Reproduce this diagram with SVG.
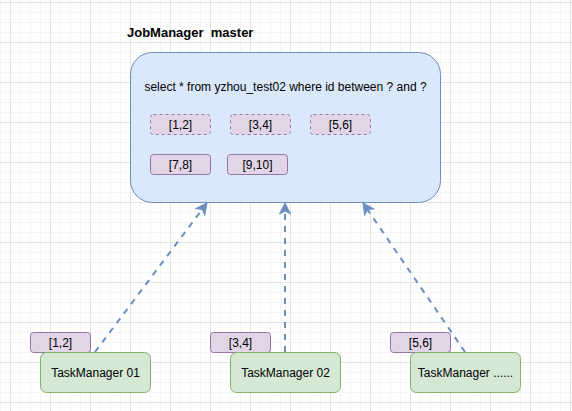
<svg xmlns="http://www.w3.org/2000/svg" width="572" height="411" viewBox="0 0 572 411">
  <style>
    text { font-family: "Liberation Sans", Arial, Helvetica, sans-serif; font-size: 12px; fill: #000; }
    .mid { text-anchor: middle; }
    .title { font-size: 13px; font-weight: bold; white-space: pre; }
    .master { fill: #dae8fc; stroke: #6c8ebf; stroke-width: 1; }
    .split { fill: #e1d5e7; stroke: #9673a6; stroke-width: 1; }
    .pending { stroke-dasharray: 3 3; }
    .tm { fill: #d5e8d4; stroke: #82b366; stroke-width: 1; }
    .conn { fill: none; stroke: #6c8ebf; stroke-width: 2; stroke-dasharray: 6 6; }
  </style>
  <defs>
    <pattern id="grid" patternUnits="userSpaceOnUse" x="10" y="2" width="40" height="40">
      <path d="M10.5,0 V40 M20.5,0 V40 M30.5,0 V40 M0,10.5 H40 M0,20.5 H40 M0,30.5 H40" stroke="#f5f5f5" stroke-width="1" fill="none"/>
      <path d="M0.5,0 V40 M0,0.5 H40" stroke="#e4e4e4" stroke-width="1" fill="none"/>
    </pattern>
    <marker id="arrow" markerUnits="userSpaceOnUse" viewBox="-4 -7 14 14" markerWidth="14" markerHeight="14" refX="0" refY="0" orient="auto">
      <path d="M8,0 L-3,-5.5 L0,0 L-3,5.5 Z" fill="#6c8ebf" stroke="#6c8ebf" stroke-width="1"/>
    </marker>
  </defs>

  <rect x="0" y="0" width="572" height="411" fill="#ffffff"/>
  <rect x="0" y="0" width="572" height="411" fill="url(#grid)"/>

  <g id="jobmanager">
    <text class="title" x="127" y="37" xml:space="preserve">JobManager  master</text>
    <rect class="master" x="130.5" y="52.5" width="310" height="150" rx="22" ry="22"/>
    <text class="mid" x="285.5" y="91">select * from yzhou_test02 where id between ? and ?</text>
  </g>

  <g id="split-1-2">
    <rect class="split pending" x="150.5" y="114.5" width="60" height="20" rx="3"/>
    <text class="mid" x="180.5" y="129">[1,2]</text>
  </g>
  <g id="split-3-4">
    <rect class="split pending" x="230.5" y="114.5" width="60" height="20" rx="3"/>
    <text class="mid" x="260.5" y="129">[3,4]</text>
  </g>
  <g id="split-5-6">
    <rect class="split pending" x="310.5" y="114.5" width="60" height="20" rx="3"/>
    <text class="mid" x="340.5" y="129">[5,6]</text>
  </g>
  <g id="split-7-8">
    <rect class="split" x="150.5" y="154.5" width="60" height="20" rx="3"/>
    <text class="mid" x="180.5" y="169">[7,8]</text>
  </g>
  <g id="split-9-10">
    <rect class="split" x="227.5" y="154.5" width="60" height="20" rx="3"/>
    <text class="mid" x="257.5" y="169">[9,10]</text>
  </g>

  <g id="connectors">
    <path class="conn" d="M95,352 L202.2,209.4" marker-end="url(#arrow)"/>
    <path class="conn" d="M285,352 L285,211" marker-end="url(#arrow)"/>
    <path class="conn" d="M465,352 L367.5,209.6" marker-end="url(#arrow)"/>
  </g>

  <g id="tag-1-2">
    <rect class="split" x="30.5" y="332.5" width="60" height="20" rx="3"/>
    <text class="mid" x="60.5" y="347">[1,2]</text>
  </g>
  <g id="tag-3-4">
    <rect class="split" x="210.5" y="332.5" width="60" height="20" rx="3"/>
    <text class="mid" x="240.5" y="347">[3,4]</text>
  </g>
  <g id="tag-5-6">
    <rect class="split" x="390.5" y="332.5" width="60" height="20" rx="3"/>
    <text class="mid" x="420.5" y="347">[5,6]</text>
  </g>

  <g id="taskmanager-01">
    <rect class="tm" x="40.5" y="352.5" width="110" height="40" rx="6"/>
    <text class="mid" x="95.5" y="377">TaskManager 01</text>
  </g>
  <g id="taskmanager-02">
    <rect class="tm" x="230.5" y="352.5" width="110" height="40" rx="6"/>
    <text class="mid" x="285.5" y="377">TaskManager 02</text>
  </g>
  <g id="taskmanager-n">
    <rect class="tm" x="410.5" y="352.5" width="110" height="40" rx="6"/>
    <text class="mid" x="465.5" y="377">TaskManager ......</text>
  </g>
</svg>
